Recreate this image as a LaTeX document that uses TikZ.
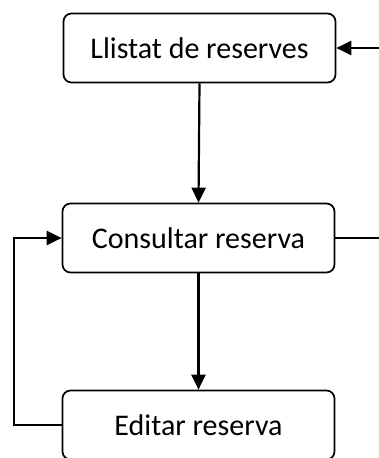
\documentclass[tikz,border=0pt]{standalone}
\usepackage{fontspec}
\setmainfont{Carlito}
\usetikzlibrary{arrows.meta}
\begin{document}
\begin{tikzpicture}[x=1pt,y=-1pt,
  stepbox/.style={draw,line width=1.7pt,rounded corners=8pt,minimum width=272pt,
    minimum height=69pt,inner sep=0pt,font=\fontsize{30}{35}\selectfont},
  link/.style={line width=2.2pt},
  arr/.style={link,-{Triangle[length=15pt,width=14pt]}}]
\useasboundingbox (0,0) rectangle (379,458);
\node[stepbox] (Lli) at (199.5,48) {Llistat de reserves};
\node[stepbox] (Con) at (198.5,238) {Consultar reserva};
\node[stepbox] (Edi) at (198.5,425) {Editar reserva};
\coordinate (inR) at (382,48);
\coordinate (outR) at (382,238);
\draw[arr] (Lli.south) -- (Con.north);
\draw[arr] (Con.south) -- (Edi.north);
\draw[arr] (Edi.west) -- ++(-48,0) |- (Con.west);
\draw[arr] (inR) -- (Lli.east);
\draw[link] (Con.east) -- (outR);
\end{tikzpicture}
\end{document}
